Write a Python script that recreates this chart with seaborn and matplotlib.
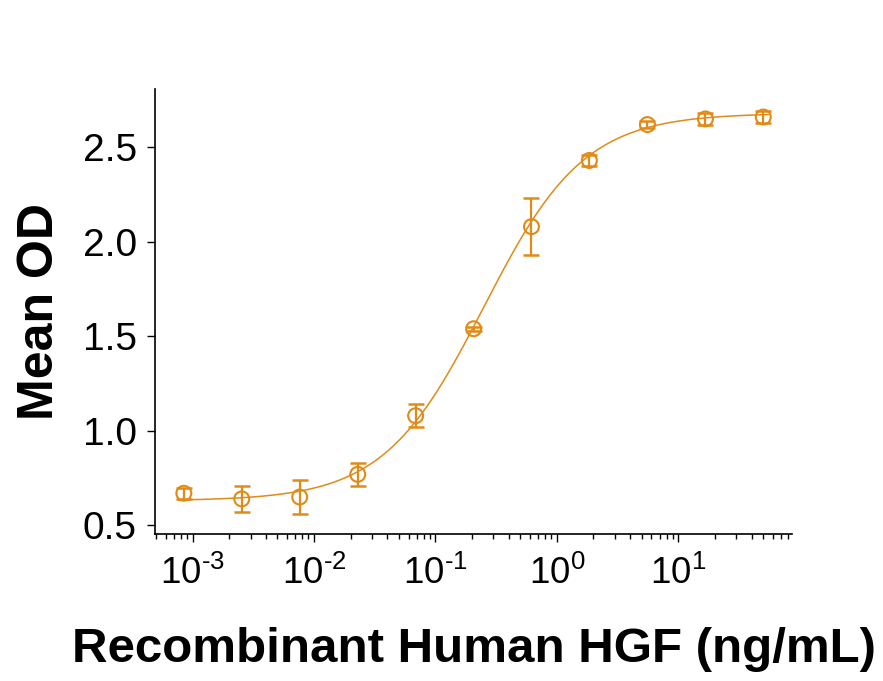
import numpy as np
import pandas as pd
import matplotlib
matplotlib.use("Agg")
import matplotlib.pyplot as plt
import seaborn as sns

# concentrations (ng/mL), 3-fold dilution series
conc = [0.000847, 0.00254, 0.00762, 0.0229, 0.0686, 0.206, 0.617, 1.85, 5.56, 16.7, 50.0]
mean_od = [0.67, 0.64, 0.65, 0.77, 1.08, 1.54, 2.08, 2.43, 2.62, 2.65, 2.66]
sd_od = [0.03, 0.07, 0.09, 0.06, 0.06, 0.01, 0.15, 0.03, 0.02, 0.03, 0.03]
xtick_vals = [1e-3, 1e-2, 1e-1, 1e0, 1e1]
ytick_vals = [0.5, 1.0, 1.5, 2.0, 2.5]

# four-parameter logistic fit, parameters estimated from the curve
bottom, top, ec50, hill = 0.63, 2.68, 0.25, 1.05

color = "#E28A17"

sns.set_style("ticks")
plt.rcParams["font.family"] = ["Liberation Sans", "DejaVu Sans"]
plt.rcParams["mathtext.fontset"] = "custom"
plt.rcParams["mathtext.rm"] = "Liberation Sans"
plt.rcParams["mathtext.it"] = "Liberation Sans"
plt.rcParams["axes.unicode_minus"] = False
plt.rcParams["text.color"] = "black"
plt.rcParams["axes.labelcolor"] = "black"
plt.rcParams["xtick.color"] = "black"
plt.rcParams["ytick.color"] = "black"

df = pd.DataFrame({"conc": conc, "od": mean_od, "sd": sd_od})

xs = np.logspace(np.log10(0.00075), np.log10(55), 300)
fit = pd.DataFrame({"conc": xs, "od": bottom + (top - bottom) / (1 + (ec50 / xs) ** hill)})

fig = plt.figure(figsize=(8.83, 6.81), dpi=100)
ax = fig.add_axes([0.1755, 0.216, 0.722, 0.653])

sns.lineplot(data=fit, x="conc", y="od", ax=ax, color=color, linewidth=1.1)
ax.errorbar(df["conc"], df["od"], yerr=df["sd"], fmt="none", ecolor=color,
            elinewidth=1.6, capsize=6, capthick=1.8)
sns.scatterplot(data=df, x="conc", y="od", ax=ax, marker="o", s=115,
                facecolor="none", edgecolor=color, linewidth=1.5, zorder=5)

ax.set_xscale("log")
ax.set_xlim(0.00049, 87)
ax.set_ylim(0.455, 2.807)
ax.set_yticks(ytick_vals)
ax.set_xticks(xtick_vals)
ax.set_xticklabels([r"$10^{\text{%d}}$" % int(round(np.log10(v))) for v in xtick_vals])
ax.minorticks_on()
ax.yaxis.set_minor_locator(matplotlib.ticker.NullLocator())

ax.tick_params(axis="both", which="major", length=6, width=1, labelsize=26.5)
ax.tick_params(axis="y", which="major", labelsize=28, pad=7)
ax.tick_params(axis="x", which="minor", length=3.5, width=1)
ax.tick_params(axis="x", which="major", pad=10)

for s in ["left", "bottom"]:
    ax.spines[s].set_color("black")
    ax.spines[s].set_linewidth(1.2)
sns.despine(ax=ax)

ax.set_xlabel("Recombinant Human HGF (ng/mL)", fontsize=35.5, fontweight="bold", labelpad=25)
ax.set_ylabel("Mean OD", fontsize=36, fontweight="bold", labelpad=14)

fig.savefig("out.png", dpi=100)
